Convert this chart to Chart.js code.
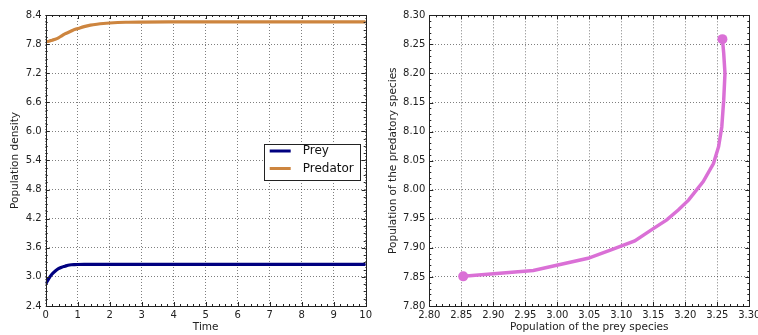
<!DOCTYPE html>
<html>
<head>
<meta charset="utf-8">
<script src="https://cdn.jsdelivr.net/npm/chart.js@4.4.1/dist/chart.umd.min.js"></script>
<style>
  html, body { margin: 0; padding: 0; background: #fff; overflow: hidden; }
  #left { position: absolute; left: 0; top: 0; width: 379px; height: 335px; }
  #right { position: absolute; left: 379px; top: 0; width: 400px; height: 335px; }
</style>
</head>
<body>
<div id="left"><canvas id="chart1" width="379" height="335"></canvas></div>
<div id="right"><canvas id="chart2" width="400" height="335"></canvas></div>
<script>
// time series (left)
var time = [0, 0.1, 0.2, 0.3, 0.4, 0.5, 0.6, 0.7, 0.8, 0.9, 1.0, 1.2, 1.4, 1.6, 1.8, 2.0, 2.5, 3, 4, 5, 6, 7, 8, 9, 10];
var prey = [2.853, 2.97, 3.06, 3.12, 3.17, 3.20, 3.22, 3.24, 3.25, 3.254, 3.256, 3.258, 3.259, 3.259, 3.259, 3.259, 3.259, 3.258, 3.258, 3.258, 3.258, 3.258, 3.258, 3.258, 3.258];
var predator = [7.851, 7.86, 7.88, 7.90, 7.93, 7.97, 8.01, 8.04, 8.07, 8.10, 8.12, 8.16, 8.19, 8.21, 8.225, 8.235, 8.25, 8.255, 8.258, 8.259, 8.259, 8.259, 8.259, 8.259, 8.259];
var timeTicks = [0, 1, 2, 3, 4, 5, 6, 7, 8, 9, 10];
var densityTicks = [2.4, 3.0, 3.6, 4.2, 4.8, 5.4, 6.0, 6.6, 7.2, 7.8, 8.4];

// phase portrait (right)
var phasePrey = [2.853, 2.9625, 3.048, 3.085, 3.121, 3.147, 3.171, 3.189, 3.205, 3.228, 3.244, 3.252, 3.257, 3.260, 3.262, 3.260, 3.258];
var phasePred = [7.851, 7.861, 7.882, 7.897, 7.912, 7.931, 7.948, 7.965, 7.982, 8.014, 8.045, 8.074, 8.108, 8.154, 8.200, 8.235, 8.259];
var preyTicks = [2.80, 2.85, 2.90, 2.95, 3.00, 3.05, 3.10, 3.15, 3.20, 3.25, 3.30];
var predTicks = [7.80, 7.85, 7.90, 7.95, 8.00, 8.05, 8.10, 8.15, 8.20, 8.25, 8.30];

var FONT = 'DejaVu Sans';
Chart.defaults.font.family = FONT;
Chart.defaults.font.size = 10;
Chart.defaults.color = '#222';

function toXY(xs, ys) {
    return xs.map(function (x, i) { return { x: x, y: ys[i] }; });
}

// box around the plot and matplotlib-style inward ticks
var framePlugin = {
    id: 'frame',
    afterDatasetsDraw: function (chart, args, opts) {
        var c = chart.ctx, a = chart.chartArea;
        c.save();
        c.strokeStyle = '#222';
        c.lineWidth = 1;
        c.strokeRect(Math.round(a.left) + 0.5, Math.round(a.top) + 0.5,
            Math.round(a.right - a.left), Math.round(a.bottom - a.top));
        ['x', 'y'].forEach(function (id) {
            var sc = chart.scales[id];
            var t = sc.ticks.map(function (k) { return k.value; });
            var n = opts[id + 'Minor'];
            for (var i = 0; i < t.length; i++) {
                var vals = [[t[i], 4]];
                if (i < t.length - 1) {
                    for (var m = 1; m < n; m++) vals.push([t[i] + (t[i + 1] - t[i]) * m / n, 2]);
                }
                vals.forEach(function (v) {
                    var p = Math.round(sc.getPixelForValue(v[0])) + 0.5;
                    c.beginPath();
                    if (id === 'x') {
                        c.moveTo(p, a.bottom); c.lineTo(p, a.bottom - v[1]);
                        c.moveTo(p, a.top); c.lineTo(p, a.top + v[1]);
                    } else {
                        c.moveTo(a.left, p); c.lineTo(a.left + v[1], p);
                        c.moveTo(a.right, p); c.lineTo(a.right - v[1], p);
                    }
                    c.stroke();
                });
            }
        });
        c.restore();
    }
};

// legend box drawn inside the plot, centre right
var boxLegend = {
    id: 'boxLegend',
    afterDraw: function (chart, args, opts) {
        if (!opts.show) return;
        var c = chart.ctx, a = chart.chartArea;
        var w = 96, h = 36;
        var x = a.right - 6 - w, y = (a.top + a.bottom) / 2 - h / 2 + 1;
        c.save();
        c.fillStyle = '#fff';
        c.fillRect(x, y, w, h);
        c.strokeStyle = '#222';
        c.lineWidth = 1;
        c.strokeRect(Math.round(x) + 0.5, Math.round(y) + 0.5, w, h);
        c.font = '12px ' + FONT;
        c.textBaseline = 'middle';
        chart.data.datasets.forEach(function (ds, i) {
            var ly = y + 7.5 + i * 17.5;
            c.strokeStyle = ds.borderColor;
            c.lineWidth = 3;
            c.beginPath();
            c.moveTo(x + 6, ly); c.lineTo(x + 27, ly);
            c.stroke();
            c.fillStyle = '#111';
            c.fillText(ds.label, x + 39, ly);
        });
        c.restore();
    }
};

function axis(min, max, ticks, digits, title, titlePad, size, isY) {
    return {
        type: 'linear',
        min: min,
        max: max,
        afterBuildTicks: function (s) { s.ticks = ticks.map(function (v) { return { value: v }; }); },
        afterFit: function (s) { if (isY) s.width = size; else s.height = size; },
        ticks: {
            autoSkip: false,
            maxRotation: 0,
            padding: isY ? 4 : 3,
            color: '#222',
            callback: function (v) { return Number(v).toFixed(digits); }
        },
        grid: { color: 'rgba(0,0,0,0.5)', lineWidth: 1, drawTicks: false },
        border: { display: false, dash: [1, 2] },
        title: { display: true, text: title, color: '#222', font: { size: 10.5 }, padding: titlePad }
    };
}

var ctx1 = document.getElementById('chart1').getContext('2d');
var chart1 = new Chart(ctx1, {
    type: 'line',
    data: {
        datasets: [{
            label: 'Prey',
            data: toXY(time, prey),
            borderColor: '#000080',
            borderWidth: 3.2,
            pointRadius: 0,
            cubicInterpolationMode: 'monotone'
        }, {
            label: 'Predator',
            data: toXY(time, predator),
            borderColor: '#cd853f',
            borderWidth: 3.2,
            pointRadius: 0,
            cubicInterpolationMode: 'monotone'
        }]
    },
    options: {
        responsive: false,
        animation: false,
        layout: { padding: { top: 15, right: 13.3, left: 0, bottom: 0 } },
        scales: {
            x: axis(0, 10, timeTicks, 0, 'Time', { top: 0, bottom: 1 }, 29, false),
            y: axis(2.4, 8.4, densityTicks, 1, 'Population density', { top: 9, bottom: 0 }, 45.7, true)
        },
        plugins: {
            legend: { display: false },
            tooltip: { enabled: false },
            frame: { xMinor: 5, yMinor: 4 },
            boxLegend: { show: true }
        }
    },
    plugins: [framePlugin, boxLegend]
});

var ctx2 = document.getElementById('chart2').getContext('2d');
var chart2 = new Chart(ctx2, {
    type: 'line',
    data: {
        datasets: [{
            label: 'Phase',
            data: toXY(phasePrey, phasePred),
            borderColor: '#da70d6',
            backgroundColor: '#da70d6',
            borderWidth: 3.5,
            tension: 0,
            pointRadius: function (c) {
                return (c.dataIndex === 0 || c.dataIndex === phasePrey.length - 1) ? 5 : 0;
            },
            pointBorderWidth: 0
        }]
    },
    options: {
        responsive: false,
        animation: false,
        layout: { padding: { top: 15.3, right: 29.7, left: 0, bottom: 0 } },
        scales: {
            x: axis(2.80, 3.30, preyTicks, 2, 'Population of the prey species', { top: 0, bottom: 1 }, 29, false),
            y: axis(7.80, 8.30, predTicks, 2, 'Population of the predatory species', { top: 8, bottom: 0 }, 50.3, true)
        },
        plugins: {
            legend: { display: false },
            tooltip: { enabled: false },
            frame: { xMinor: 5, yMinor: 5 },
            boxLegend: { show: false }
        }
    },
    plugins: [framePlugin, boxLegend]
});
</script>
</body>
</html>
